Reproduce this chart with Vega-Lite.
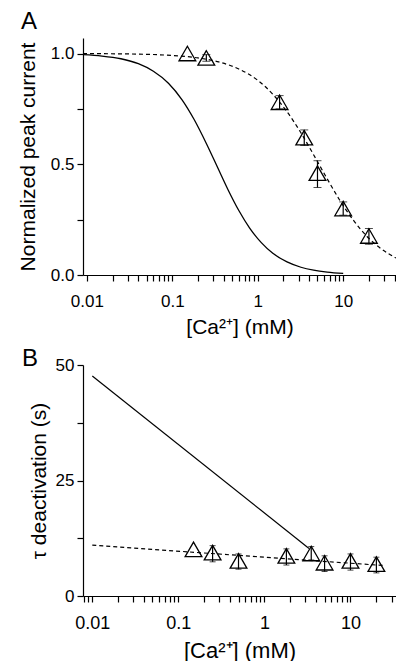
{
  "$schema": "https://vega.github.io/schema/vega-lite/v6.json",
  "padding": {"left": 17, "top": 10, "right": 0, "bottom": 0},
  "spacing": 10,
  "config": {
    "view": {"stroke": null},
    "axis": {"domainColor": "black", "domainWidth": 1.2, "tickColor": "black", "tickWidth": 1.2, "tickSize": 6, "ticks": true, "labelColor": "black", "titleColor": "black", "labelFont": "Liberation Sans", "titleFont": "Liberation Sans", "labelFontSize": 17, "titleFontSize": 21, "titleFontWeight": "normal", "grid": false, "labelOverlap": false, "labelFlush": false},
    "title": {"font": "Liberation Sans", "fontSize": 24, "fontWeight": "normal", "anchor": "start", "frame": "group", "color": "black"}
  },
  "vconcat": [
    {
      "width": 313,
      "height": 237,
      "title": {"text": "A", "offset": 4, "dx": -62},
      "encoding": {
        "x": {
          "field": "x", "type": "quantitative",
          "scale": {"type": "log", "domain": [0.009, 41.5], "nice": false},
          "axis": {
            "values": [0.01,0.02,0.03,0.04,0.05,0.06,0.07,0.08,0.09,0.1,0.2,0.3,0.4,0.5,0.6,0.7,0.8,0.9,1,2,3,4,5,6,7,8,9,10,20,30,40],
            "labelExpr": "datum.value == 0.01 ? '0.01' : datum.value == 0.1 ? '0.1' : datum.value == 1 ? '1' : datum.value == 10 ? '10' : ''",
            "labelPadding": 12,
            "titlePadding": 7
          },
          "title": "[Ca²⁺] (mM)"
        }
      },
      "layer": [
        {
          "data": {"values": [
            {"x": 0.009, "y": 0.9945}, {"x": 0.015, "y": 0.9886}, {"x": 0.025, "y": 0.9763}, {"x": 0.04, "y": 0.954},
            {"x": 0.06, "y": 0.92}, {"x": 0.09, "y": 0.866}, {"x": 0.13, "y": 0.791}, {"x": 0.18, "y": 0.702},
            {"x": 0.25, "y": 0.594}, {"x": 0.34, "y": 0.484}, {"x": 0.45, "y": 0.384}, {"x": 0.6, "y": 0.291},
            {"x": 0.8, "y": 0.213}, {"x": 1.1, "y": 0.146}, {"x": 1.5, "y": 0.098}, {"x": 2.2, "y": 0.059},
            {"x": 3.2, "y": 0.035}, {"x": 4.5, "y": 0.0216}, {"x": 6.5, "y": 0.0128}, {"x": 10, "y": 0.0069}
          ]},
          "mark": {"type": "line", "interpolate": "monotone", "color": "black", "strokeWidth": 1.3},
          "encoding": {"y": {"field": "y", "type": "quantitative", "title": "Normalized peak current",
            "scale": {"domain": [0, 1.07], "nice": false, "zero": false},
            "axis": {"values": [0, 0.25, 0.5, 0.75, 1],
              "labelExpr": "datum.value == 0 ? '0.0' : datum.value == 0.5 ? '0.5' : datum.value == 1 ? '1.0' : ''",
              "labelPadding": 3, "titlePadding": 12}}}
        },
        {
          "data": {"values": [
            {"x": 0.009, "y": 0.9995}, {"x": 0.03, "y": 0.998}, {"x": 0.1, "y": 0.991}, {"x": 0.2, "y": 0.98},
            {"x": 0.35, "y": 0.962}, {"x": 0.6, "y": 0.93}, {"x": 1.0, "y": 0.879}, {"x": 1.5, "y": 0.816},
            {"x": 2.2, "y": 0.737}, {"x": 3.2, "y": 0.642}, {"x": 4.5, "y": 0.543}, {"x": 6.5, "y": 0.434},
            {"x": 9, "y": 0.341}, {"x": 13, "y": 0.25}, {"x": 19, "y": 0.174}, {"x": 27, "y": 0.122}, {"x": 41.5, "y": 0.0764}
          ]},
          "mark": {"type": "line", "interpolate": "monotone", "color": "black", "strokeWidth": 1.2, "strokeDash": [4, 3]},
          "encoding": {"y": {"field": "y", "type": "quantitative", "title": "Normalized peak current"}}
        },
        {
          "data": {"values": [
            {"x": 0.25, "lo": 0.965, "hi": 0.995}, {"x": 1.8, "lo": 0.75, "hi": 0.81},
            {"x": 3.5, "lo": 0.585, "hi": 0.655}, {"x": 5, "lo": 0.395, "hi": 0.516},
            {"x": 10, "lo": 0.27, "hi": 0.33}, {"x": 20, "lo": 0.139, "hi": 0.21}
          ]},
          "mark": {"type": "errorbar", "ticks": {"size": 8, "color": "black", "strokeWidth": 1.2}, "rule": {"color": "black", "strokeWidth": 1.2}},
          "encoding": {"y": {"field": "lo", "type": "quantitative", "title": "Normalized peak current"}, "y2": {"field": "hi"}}
        },
        {
          "data": {"values": [
            {"x": 0.15, "y": 1.0}, {"x": 0.25, "y": 0.98}, {"x": 1.8, "y": 0.78}, {"x": 3.5, "y": 0.62},
            {"x": 5, "y": 0.46}, {"x": 10, "y": 0.3}, {"x": 20, "y": 0.176}
          ]},
          "mark": {"type": "point", "shape": "triangle-up", "size": 280, "filled": false, "color": "black", "strokeWidth": 1.3, "opacity": 1},
          "encoding": {"y": {"field": "y", "type": "quantitative", "title": "Normalized peak current"}}
        }
      ]
    },
    {
      "width": 313,
      "height": 231,
      "title": {"text": "B", "offset": -15, "dx": -61},
      "encoding": {
        "x": {
          "field": "x", "type": "quantitative",
          "scale": {"type": "log", "domain": [0.0078, 33.8], "nice": false},
          "axis": {
            "values": [0.008,0.009,0.01,0.02,0.03,0.04,0.05,0.06,0.07,0.08,0.09,0.1,0.2,0.3,0.4,0.5,0.6,0.7,0.8,0.9,1,2,3,4,5,6,7,8,9,10,20,30],
            "labelExpr": "datum.value == 0.01 ? '0.01' : datum.value == 0.1 ? '0.1' : datum.value == 1 ? '1' : datum.value == 10 ? '10' : ''",
            "labelPadding": 12,
            "labelFontSize": 18,
            "titleFontSize": 22,
            "titlePadding": 8
          },
          "title": "[Ca²⁺] (mM)"
        }
      },
      "layer": [
        {
          "data": {"values": [{"x": 0.01, "y": 47.6}, {"x": 3.3, "y": 10.3}]},
          "mark": {"type": "line", "color": "black", "strokeWidth": 1.2},
          "encoding": {"y": {"field": "y", "type": "quantitative", "title": "τ deactivation (s)",
            "scale": {"domain": [0, 50], "nice": false},
            "axis": {"values": [0, 12.5, 25, 37.5, 50],
              "labelExpr": "datum.value == 0 ? '0' : datum.value == 25 ? '25' : datum.value == 50 ? '50' : ''",
              "labelPadding": 3, "titlePadding": 6}}}
        },
        {
          "data": {"values": [{"x": 0.01, "y": 11.0}, {"x": 24, "y": 6.6}]},
          "mark": {"type": "line", "color": "black", "strokeWidth": 1.2, "strokeDash": [4, 3]},
          "encoding": {"y": {"field": "y", "type": "quantitative", "title": "τ deactivation (s)"}}
        },
        {
          "data": {"values": [
            {"x": 0.25, "lo": 7.4, "hi": 10.9}, {"x": 0.5, "lo": 5.8, "hi": 9.1},
            {"x": 1.8, "lo": 6.7, "hi": 10.2}, {"x": 3.5, "lo": 7.8, "hi": 10.7},
            {"x": 5, "lo": 5.3, "hi": 8.7}, {"x": 10, "lo": 5.6, "hi": 9.1}, {"x": 20, "lo": 5.0, "hi": 8.4}
          ]},
          "mark": {"type": "errorbar", "ticks": {"size": 6, "color": "black", "strokeWidth": 1.2}, "rule": {"color": "black", "strokeWidth": 1.2}},
          "encoding": {"y": {"field": "lo", "type": "quantitative", "title": "τ deactivation (s)"}, "y2": {"field": "hi"}}
        },
        {
          "data": {"values": [
            {"x": 0.15, "y": 10.1}, {"x": 0.25, "y": 9.4}, {"x": 0.5, "y": 7.6}, {"x": 1.8, "y": 8.7},
            {"x": 3.5, "y": 9.2}, {"x": 5, "y": 7.2}, {"x": 10, "y": 7.6}, {"x": 20, "y": 6.9}
          ]},
          "mark": {"type": "point", "shape": "triangle-up", "size": 280, "filled": false, "color": "black", "strokeWidth": 1.3, "opacity": 1},
          "encoding": {"y": {"field": "y", "type": "quantitative", "title": "τ deactivation (s)"}}
        }
      ]
    }
  ]
}
